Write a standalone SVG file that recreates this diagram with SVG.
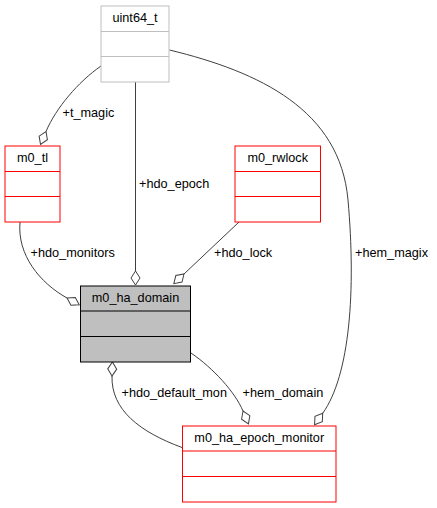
<svg xmlns="http://www.w3.org/2000/svg" width="437" height="508" viewBox="0 0 437 508">
<style>
text{font-family:"Liberation Sans",Arial,sans-serif;font-size:12.7px;fill:#000}
.t{text-anchor:middle}
.box{fill:#fff;stroke:#ff0000;stroke-width:1}
.ext{fill:#fff;stroke:#bfbfbf;stroke-width:1}
.cur{fill:#bfbfbf;stroke:#000;stroke-width:1}
.e{fill:none;stroke:#404040;stroke-width:1}
</style>
<defs>
<marker id="od" markerUnits="userSpaceOnUse" markerWidth="18" markerHeight="12" viewBox="-2 -6 18 12" refX="0" refY="0" orient="auto">
<path d="M0,0 L7,-4.5 L14,0 L7,4.5 Z" fill="#fff" stroke="#404040" stroke-width="1"/>
</marker>
</defs>
<rect width="437" height="508" fill="#fff"/>
<g id="edges">
<path class="e" d="M101,66 C78,82 56,108 46,131.5" marker-end="url(#od)"/>
<path class="e" d="M135.5,82 L135.5,271" marker-end="url(#od)"/>
<path class="e" d="M20,222 C17,255 40,283 67,298" marker-end="url(#od)"/>
<path class="e" d="M239,222 L184,274" marker-end="url(#od)"/>
<path class="e" d="M169.5,50 C260,72 340,110 348,200 C356,290 350,375 322.7,413.3" marker-end="url(#od)"/>
<path class="e" d="M182,447.5 C140,432 111,410 112,376" marker-end="url(#od)"/>
<path class="e" d="M191,353 C213,368 235,392 243,411" marker-end="url(#od)"/>
<text x="62.5" y="117">+t_magic</text>
<text x="139" y="187.5">+hdo_epoch</text>
<text x="30.5" y="257.3">+hdo_monitors</text>
<text x="214" y="257.3">+hdo_lock</text>
<text x="355" y="257.3">+hem_magix</text>
<text x="121.5" y="397.3">+hdo_default_mon</text>
<text x="242.5" y="397.3">+hem_domain</text>
</g>
<g id="uint64_t">
<rect class="ext" x="101" y="6" width="68" height="76"/>
<path class="ext" d="M101,31.5 H169 M101,56.5 H169"/>
<text class="t" x="135" y="22">uint64_t</text>
</g>
<g id="m0_tl">
<rect class="box" x="5" y="146" width="55" height="76"/>
<path class="box" d="M5,171.5 H60 M5,196.5 H60"/>
<text class="t" x="32.5" y="162">m0_tl</text>
</g>
<g id="m0_rwlock">
<rect class="box" x="235" y="146" width="85.5" height="76"/>
<path class="box" d="M235,171.5 H320.5 M235,196.5 H320.5"/>
<text class="t" x="277.75" y="162">m0_rwlock</text>
</g>
<g id="m0_ha_domain">
<rect class="cur" x="80.5" y="286" width="110" height="76"/>
<path class="cur" d="M80.5,311 H190.5 M80.5,336.5 H190.5"/>
<text class="t" x="135.5" y="302">m0_ha_domain</text>
</g>
<g id="m0_ha_epoch_monitor">
<rect class="box" x="182.5" y="426" width="153.5" height="76"/>
<path class="box" d="M182.5,451 H336 M182.5,476.5 H336"/>
<text class="t" x="259.25" y="442">m0_ha_epoch_monitor</text>
</g>
</svg>
